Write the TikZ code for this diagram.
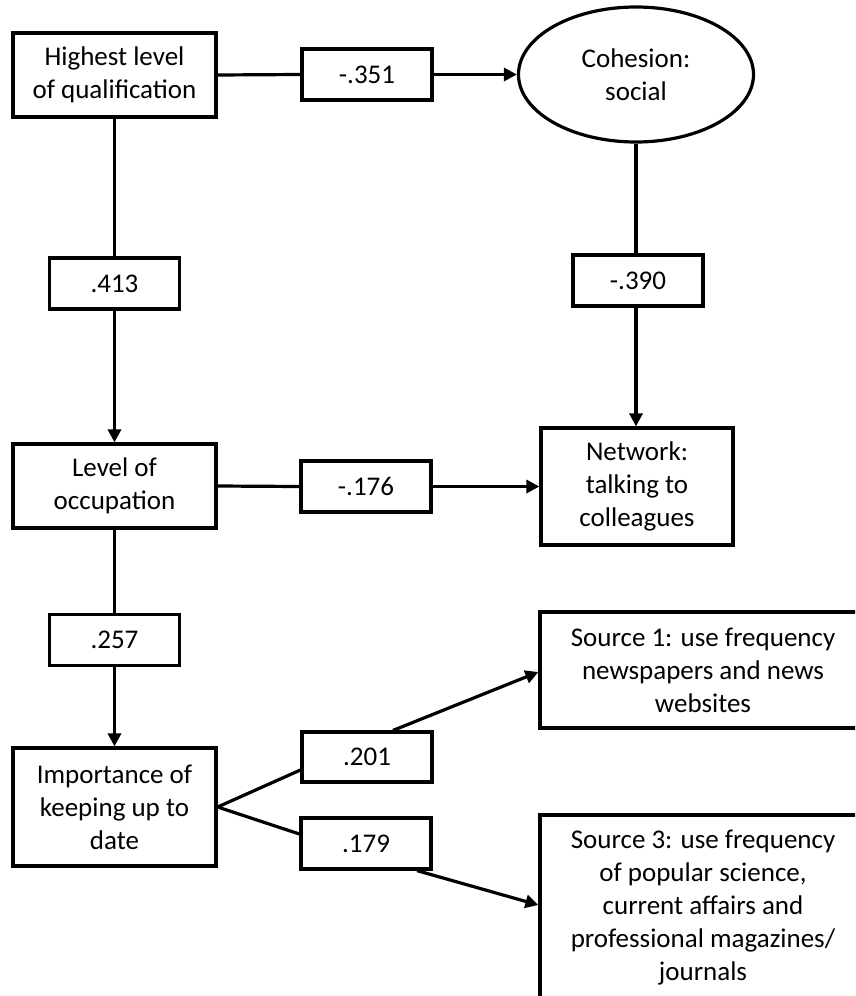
\documentclass[tikz,border=0pt]{standalone}
\usepackage{fontspec}
\setmainfont{Carlito}
\usetikzlibrary{arrows.meta,calc,shapes.geometric}
\begin{document}
\begin{tikzpicture}[x=1pt,y=-1pt,
  every node/.style={font=\fontsize{27}{33}\selectfont, align=center, inner sep=0pt},
  varbox/.style={draw, line width=3.2pt, rectangle, minimum width=#1},
  coefbox/.style={draw, line width=3.2pt, rectangle, minimum width=130pt, minimum height=51pt},
  link/.style={line width=3.2pt},
  arr/.style={line width=3.2pt, -{Triangle[length=13pt,width=13pt]}}
]
\useasboundingbox (0,0) rectangle (855,996);
\clip (0,0) rectangle (855,996);
% variable nodes
\node[varbox=203pt, minimum height=84pt] (hq) at (114.5,75) {Highest level\\of qualification};
\node[draw, line width=3.2pt, ellipse, minimum width=235pt, minimum height=135pt] (coh) at (636,74.5) {Cohesion:\\social};
\node[varbox=203pt, minimum height=84pt] (lev) at (114.5,486) {Level of\\occupation};
\node[varbox=192pt, minimum height=117pt] (net) at (637,486.5) {Network:\\talking to\\colleagues};
\node[varbox=203pt, minimum height=118pt] (imp) at (114.5,807) {Importance of\\keeping up to\\date};
\node[varbox=326pt, minimum height=116pt] (s1) at (703,670) {Source 1: use frequency\\newspapers and news\\websites};
\node[varbox=326pt, minimum height=186pt] (s3) at (703,908) {Source 3: use frequency\\of popular science,\\current affairs and\\professional magazines/\\journals};
% coefficient nodes
\node[coefbox] (b351) at (367,74.5) {-.351};
\node[coefbox] (b413) at (114.5,283.5) {.413};
\node[coefbox] (b390) at (638,280.5) {-.390};
\node[coefbox] (b176) at (366,486.5) {-.176};
\node[coefbox] (b257) at (114.5,640) {.257};
\node[coefbox, minimum height=50pt] (b201) at (367,757) {.201};
\node[coefbox] (b179) at (366,843.5) {.179};
% connectors
\draw[link] (hq.east) -- (b351.west);
\draw[arr] (b351.east) -- (coh.west);
\draw[link] (hq.south) -- (b413.north);
\draw[arr] (b413.south) -- (lev.north);
\draw[link] (coh.south) -- (coh.south |- b390.north);
\draw[arr] (b390.south -| coh.south) -- (coh.south |- net.north);
\draw[link] (lev.east) -- (b176.west);
\draw[arr] (b176.east) -- (net.west);
\draw[link] (lev.south) -- (b257.north);
\draw[arr] (b257.south) -- (imp.north);
\draw[link] (imp.east) -- ($(b201.west)+(0,13)$);
\draw[arr] ($(b201.north)+(26,0)$) -- ($(s1.west)+(0,2)$);
\draw[link] (imp.east) -- ($(b179.west)+(0,-9.5)$);
\draw[arr] ($(b179.south)+(51,0)$) -- ($(s3.west)+(0,-3)$);
\end{tikzpicture}
\end{document}
